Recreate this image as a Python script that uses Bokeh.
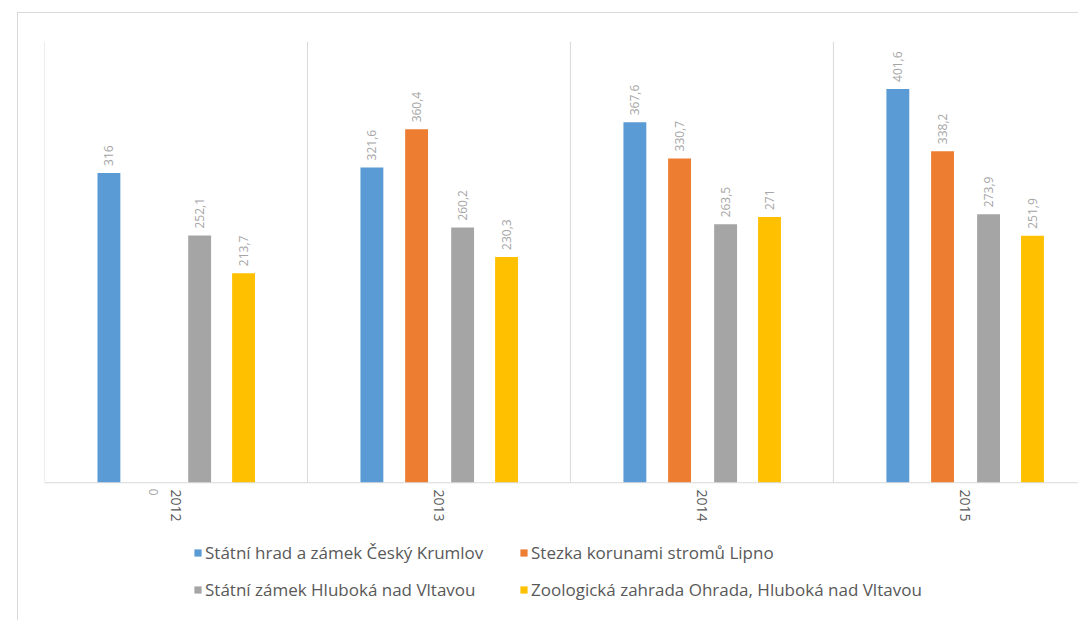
import math
from bokeh.plotting import figure
from bokeh.layouts import column
from bokeh.models import ColumnDataSource, FixedTicker, Legend, LegendItem, Range1d, Span
from bokeh.core.properties import value
from bokeh.embed import file_html
from bokeh.resources import INLINE

years = ["2012", "2013", "2014", "2015"]
series_names = [
    "Státní hrad a zámek Český Krumlov",
    "Stezka korunami stromů Lipno",
    "Státní zámek Hluboká nad Vltavou",
    "Zoologická zahrada Ohrada, Hluboká nad Vltavou",
]
krumlov = [316, 321.6, 367.6, 401.6]
lipno = [0, 360.4, 330.7, 338.2]
hluboka = [252.1, 260.2, 263.5, 273.9]
ohrada = [213.7, 230.3, 271, 251.9]
series_values = [krumlov, lipno, hluboka, ohrada]
colors = ["#5B9BD5", "#ED7D31", "#A5A5A5", "#FFC000"]
offsets = [-0.255, -0.085, 0.09, 0.257]
bar_width = 0.087
Y_MAX = 450

FONT = "Open Sans"
W = 1060


def fmt(v):
    s = ("%g" % v)
    return s.replace(".", ",")


p = figure(width=W, height=522, output_backend="svg", toolbar_location=None,
           x_range=Range1d(0, 3.932), y_range=Range1d(-13, Y_MAX),
           min_border_left=26, min_border_right=0, min_border_top=28,
           min_border_bottom=40)
p.outline_line_color = None
p.background_fill_color = "white"
p.grid.visible = False
p.yaxis.visible = False

# category separators and baseline
n = len(years)
p.segment(x0=list(range(n + 1)), y0=[0] * (n + 1), x1=list(range(n + 1)),
          y1=[Y_MAX] * (n + 1), line_color="#d9d9d9", line_width=1)
p.add_layout(Span(location=0, dimension="width", line_color="#d9d9d9", line_width=1))

for name, vals, col, off in zip(series_names, series_values, colors, offsets):
    xs = [i + 0.5 + off for i in range(n)]
    src = ColumnDataSource(dict(x=xs, top=vals))
    p.vbar(x="x", top="top", width=bar_width, source=src, fill_color=col, line_color=None)
    pos = ColumnDataSource(dict(x=[x for x, v in zip(xs, vals) if v > 0],
                                y=[v for v in vals if v > 0],
                                t=[fmt(v) for v in vals if v > 0]))
    p.text(x="x", y="y", text="t", source=pos, angle=math.pi / 2, text_align="left",
           text_baseline="middle", y_offset=-7, text_color="#a6a6a6",
           text_font=value(FONT), text_font_size="12px")
    zero = ColumnDataSource(dict(x=[x for x, v in zip(xs, vals) if v == 0],
                                 y=[v for v in vals if v == 0],
                                 t=[fmt(v) for v in vals if v == 0]))
    p.text(x="x", y="y", text="t", source=zero, angle=math.pi / 2, text_align="right",
           text_baseline="middle", y_offset=6, text_color="#a6a6a6",
           text_font=value(FONT), text_font_size="12px")

p.xaxis.ticker = FixedTicker(ticks=[i + 0.5 for i in range(n)])
p.xaxis.major_label_overrides = {i + 0.5: y for i, y in enumerate(years)}
p.xaxis.major_label_orientation = -math.pi / 2
p.xaxis.major_tick_line_color = None
p.xaxis.minor_tick_line_color = None
p.xaxis.axis_line_color = None
p.xaxis.major_label_text_color = "#595959"
p.xaxis.major_label_text_font = FONT
p.xaxis.major_label_text_font_size = "14px"
p.xaxis.major_label_standoff = -12

# legend in its own strip below the chart (its bars lie outside the visible ranges)
leg = figure(width=W, height=85, output_backend="svg", toolbar_location=None,
             x_range=Range1d(-100, -99), y_range=Range1d(-1000, -999),
             min_border_left=26, min_border_right=0, min_border_top=0, min_border_bottom=0)
leg.axis.visible = False
leg.grid.visible = False
leg.outline_line_color = None
renderers = []
for vals, col in zip(series_values, colors):
    renderers.append(leg.vbar(x=[i + 0.5 for i in range(n)], top=vals, width=0.1,
                              fill_color=col, line_color=None))
order = [0, 2, 1, 3]
items = [LegendItem(label=series_names[i], renderers=[renderers[i]]) for i in order]
legend = Legend(items=items, ncols=2, location=(149, 19))
legend.label_text_font = FONT
legend.label_text_font_size = "17px"
legend.label_text_color = "#595959"
legend.glyph_width = 9
legend.glyph_height = 9
legend.label_standoff = 3
legend.spacing = 14
legend.label_height = 20
legend.label_width = 300
legend.padding = 0
legend.margin = 0
legend.border_line_color = None
legend.background_fill_alpha = 0
leg.add_layout(legend, "center")

layout = column(p, leg, spacing=0)
layout.margin = (12, 0, 0, 17)
layout.styles = {"border-left": "1px solid #d9d9d9", "border-top": "1px solid #d9d9d9"}

open("out.html", "w").write(file_html(layout, INLINE))
